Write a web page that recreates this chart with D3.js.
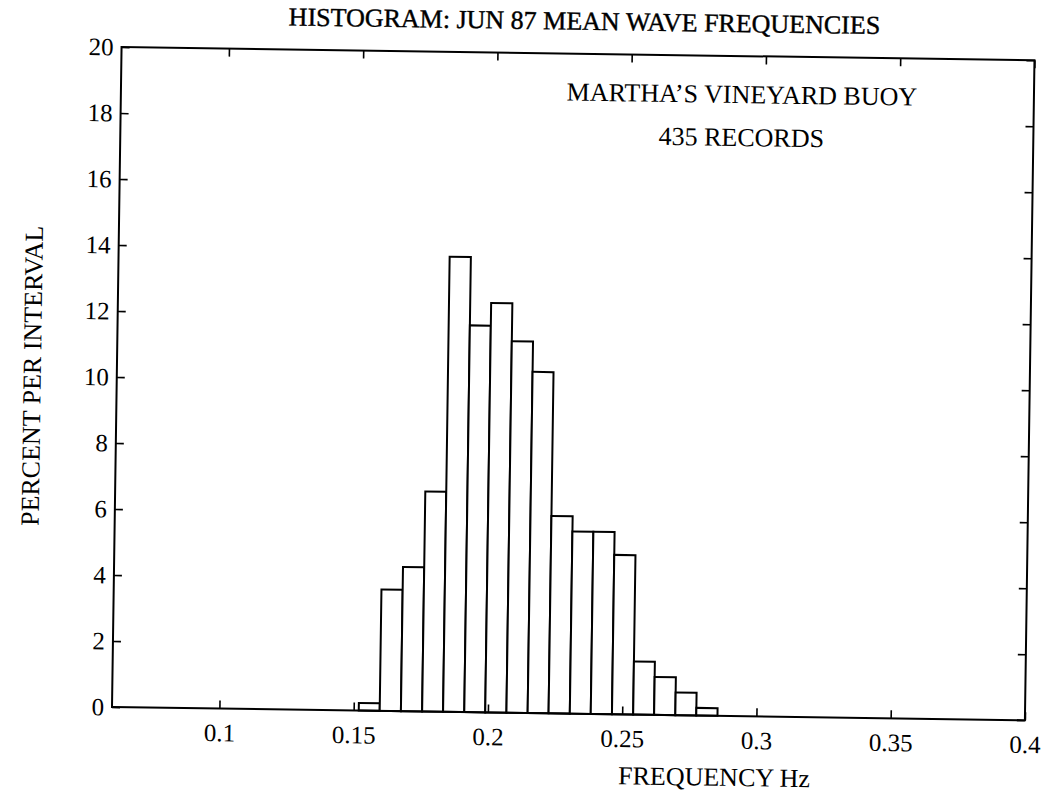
<!DOCTYPE html>
<html lang="en">
<head>
    <meta charset="UTF-8">
    <title>Histogram: Jun 87 Mean Wave Frequencies</title>
    <script src="https://d3js.org/d3.v7.min.js"></script>
    <style>
        body { margin: 0; background: #fff; }
        text { font-family: "Liberation Serif", "Times New Roman", serif; fill: #000; }
        .axis line { stroke: #000; stroke-width: 1.6px; }
        .axis path { display: none; }
        .axis text { font-size: 25px; }
        .bar { fill: #fff; stroke: #000; stroke-width: 2px; }
        .frame { fill: none; stroke: #000; stroke-width: 2px; }
        .title { stroke: #000; stroke-width: 0.4px; }
    </style>
</head>
<body>
    <svg id="chart"></svg>

    <script>
        // bin edges (Hz) and percent of records per bin
        const binEdges = [0.1519, 0.1597, 0.1676, 0.1755, 0.1833, 0.1912, 0.1990, 0.2069, 0.2148,
                          0.2226, 0.2305, 0.2383, 0.2462, 0.2541, 0.2619, 0.2698, 0.2776, 0.2855];
        const percents = [0.23, 3.68, 4.37, 6.67, 13.79, 11.72, 12.41, 11.26, 10.34,
                          5.98, 5.52, 5.52, 4.83, 1.61, 1.15, 0.69, 0.23];

        const xTicks = [0.1, 0.15, 0.2, 0.25, 0.3, 0.35, 0.4];
        const xTickLabels = ["0.1", "0.15", "0.2", "0.25", "0.3", "0.35", "0.4"];
        const yTicks = [0, 2, 4, 6, 8, 10, 12, 14, 16, 18, 20];

        const titleText = "HISTOGRAM: JUN 87 MEAN WAVE FREQUENCIES";
        const noteLines = ["MARTHA\u2019S VINEYARD BUOY", "435 RECORDS"];

        const bins = percents.map((p, i) => ({ x0: binEdges[i], x1: binEdges[i + 1], pct: p }));

        const fullWidth = 1045, fullHeight = 808;
        const margin = { top: 47, left: 112 };
        const width = 913;
        const height = 660;

        const root = d3.select("#chart")
            .attr("width", fullWidth)
            .attr("height", fullHeight);

        // the original page was scanned a little crooked, so turn the whole plot slightly
        const svg = root.append("g")
            .attr("transform", `rotate(0.83, ${margin.left}, ${margin.top + height}) translate(${margin.left}, ${margin.top})`);

        const x = d3.scaleLinear().domain([0.06, 0.4]).range([0, width]);
        const y = d3.scaleLinear().domain([0, 20]).range([height, 0]);

        // bars
        svg.selectAll(".bar")
            .data(bins)
            .enter().append("rect")
            .attr("class", "bar")
            .attr("x", d => x(d.x0))
            .attr("width", d => x(d.x1) - x(d.x0))
            .attr("y", d => y(d.pct))
            .attr("height", d => y(0) - y(d.pct));

        // box around plot
        svg.append("rect")
            .attr("class", "frame")
            .attr("width", width)
            .attr("height", height);

        // ticks point inwards on all four sides
        svg.append("g")
            .attr("class", "axis")
            .attr("transform", `translate(0, ${height})`)
            .call(d3.axisBottom(x).tickValues(xTicks)
                .tickFormat((d, i) => xTickLabels[i])
                .tickSizeInner(-8).tickSizeOuter(0).tickPadding(15));

        svg.append("g")
            .attr("class", "axis")
            .call(d3.axisTop(x).tickValues(xTicks).tickFormat("")
                .tickSizeInner(-8).tickSizeOuter(0));

        svg.append("g")
            .attr("class", "axis")
            .call(d3.axisLeft(y).tickValues(yTicks).tickFormat(d3.format("d"))
                .tickSizeInner(-8).tickSizeOuter(0).tickPadding(8));

        svg.append("g")
            .attr("class", "axis")
            .attr("transform", `translate(${width}, 0)`)
            .call(d3.axisRight(y).tickValues(yTicks).tickFormat("")
                .tickSizeInner(-8).tickSizeOuter(0));

        // title
        svg.append("text")
            .attr("class", "title")
            .attr("x", width / 2 + 6)
            .attr("y", -24)
            .attr("text-anchor", "middle")
            .style("font-size", "26px")
            .text(titleText);

        // note in the upper right
        svg.selectAll(".note")
            .data(noteLines)
            .enter().append("text")
            .attr("class", "note")
            .attr("x", 621)
            .attr("y", (d, i) => 47 + i * 43)
            .attr("text-anchor", "middle")
            .style("font-size", "26px")
            .text(d => d);

        // axis labels
        svg.append("text")
            .attr("x", 603)
            .attr("y", height + 70)
            .attr("text-anchor", "middle")
            .style("font-size", "26px")
            .text("FREQUENCY Hz");

        svg.append("text")
            .attr("transform", `translate(-76, ${height / 2}) rotate(-90)`)
            .attr("text-anchor", "middle")
            .style("font-size", "26px")
            .text("PERCENT PER INTERVAL");
    </script>
</body>
</html>
